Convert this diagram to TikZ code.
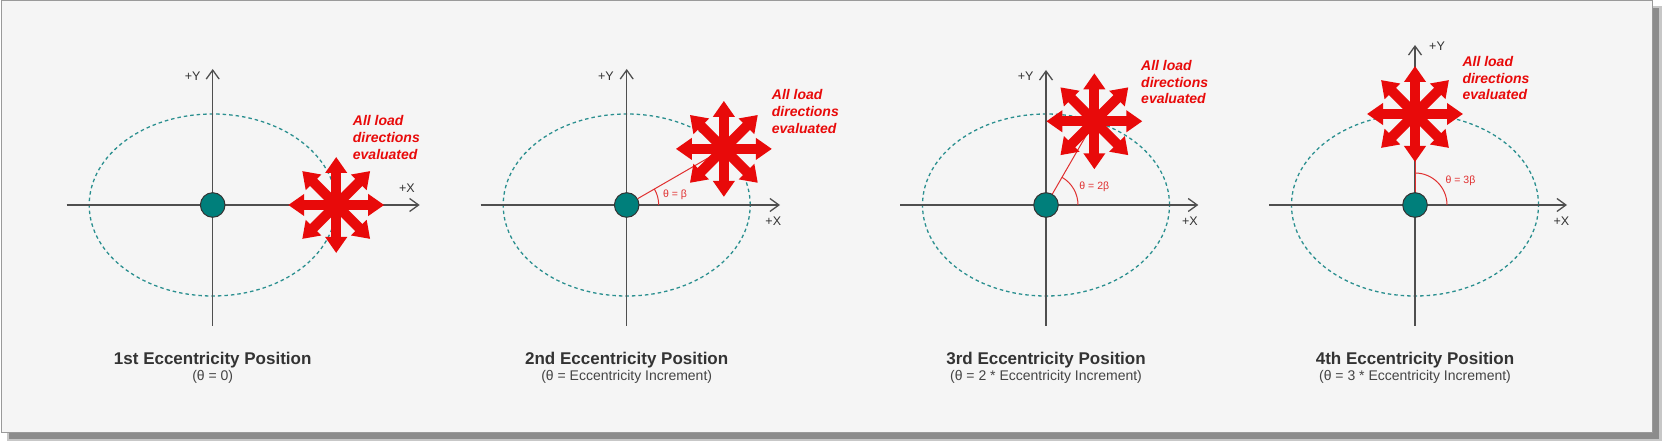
\documentclass[tikz,border=0pt]{standalone}
\usepackage{fontspec}
\setmainfont{Liberation Sans}
\usetikzlibrary{arrows.meta,calc}
\definecolor{bgC}{HTML}{F5F5F5}
\definecolor{frameC}{HTML}{9A9A9A}
\definecolor{axisC}{HTML}{4F4F4F}
\definecolor{hubC}{HTML}{007F7B}
\definecolor{dashC}{HTML}{2A8F8F}
\definecolor{starC}{HTML}{E80A0A}
\definecolor{txtC}{HTML}{333333}
\definecolor{subC}{HTML}{444444}
\definecolor{angC}{HTML}{E03030}
\begin{document}
\begin{tikzpicture}[x=1pt,y=1pt,
  axis/.style={draw=axisC, line width=1.4pt, -{Straight Barb[length=9pt,width=13pt,line width=1.3pt]}},
  ellip/.style={draw=dashC, line width=1.3pt, dash pattern=on 3.5pt off 3pt},
  hub/.style={circle, draw=txtC, line width=1pt, fill=hubC, minimum size=24.6pt, inner sep=0pt},
  axlabel/.style={text=txtC, font=\fontsize{12.5}{14}\selectfont, inner sep=0pt},
  loadarrow/.style={draw=starC, line width=10pt, {Triangle[width=21pt,length=16pt]}-{Triangle[width=21pt,length=16pt]}},
  loadtxt/.style={text=starC, font=\fontsize{14}{16.7}\selectfont\bfseries\itshape, align=left, inner sep=0pt, anchor=west},
  radial/.style={draw=angC, line width=1pt},
  angarc/.style={draw=angC, line width=1pt},
  anglabel/.style={text=angC, font=\fontsize{10.5}{12}\selectfont, inner sep=0pt},
  titletxt/.style={text=txtC, font=\fontsize{17}{20}\selectfont\bfseries, anchor=base, inner sep=0pt},
  subtxt/.style={text=subC, font=\fontsize{14}{16}\selectfont, anchor=base, inner sep=0pt}
]
\useasboundingbox (0,0) rectangle (1667,447);
% frame with shadow
\fill[black!22] (7,6) rectangle (1662,441);
\fill[black!45] (9,8) rectangle (1659,439);
\draw[draw=frameC, fill=bgC, line width=1pt] (1,446) rectangle (1652,15);

% ---------- panel 1 ----------
\coordinate (C1) at (212.7,242);
\draw[ellip] (C1) ellipse [x radius=123.5, y radius=91];
\coordinate (C1l) at ($(C1)+(-146,0)$);
\coordinate (C1r) at ($(C1)+(207,0)$);
\coordinate (C1b) at ($(C1)+(0,-121)$);
\coordinate (C1t) at ($(C1)+(0,136)$);
\draw[axis] (C1l) -- (C1r);
\draw[axis] (C1b) -- (C1t);
\node[axlabel] (X1) at ($(C1)+(194.3,17)$) {+X};
\node[axlabel] (Y1) at ($(C1)+(-20,128.3)$) {+Y};
\node[hub] (H1) at (C1) {};
\coordinate (S1) at ($(C1)+(0:123.5)$);
\foreach \a in {0,45,90,135}
  \draw[loadarrow] ($(S1)+(\a:48)$) -- ($(S1)+(\a+180:48)$);
\node[loadtxt] (L1) at (352.7,309.3) {All load\\directions\\evaluated};
\node[titletxt] (T1) at (212.7,82) {1st Eccentricity Position};
\node[subtxt] (U1) at (212.7,66.5) {(θ = 0)};

% ---------- panel 2 ----------
\coordinate (C2) at (626.7,242);
\draw[ellip] (C2) ellipse [x radius=123.5, y radius=91];
\coordinate (C2l) at ($(C2)+(-146,0)$);
\coordinate (C2r) at ($(C2)+(153.3,0)$);
\coordinate (C2b) at ($(C2)+(0,-121)$);
\coordinate (C2t) at ($(C2)+(0,136)$);
\draw[axis] (C2l) -- (C2r);
\draw[axis] (C2b) -- (C2t);
\node[axlabel] (X2) at ($(C2)+(146.6,-16.7)$) {+X};
\node[axlabel] (Y2) at ($(C2)+(-20.7,129)$) {+Y};
\coordinate (S2) at ($(C2)+(30:112.2)$);
\node[hub] (H2) at (C2) {};
\draw[radial] (H2) -- (S2);
\draw[angarc] ($(C2)+(32,0)$) arc[start angle=0, end angle=30, radius=32];
\node[anglabel] (A2) at ($(C2)+(48.3,10)$) {θ = β};
\foreach \a in {0,45,90,135}
  \draw[loadarrow] ($(S2)+(\a:48)$) -- ($(S2)+(\a+180:48)$);
\node[loadtxt] (L2) at (771.7,335.3) {All load\\directions\\evaluated};
\node[titletxt] (T2) at (626.7,82) {2nd Eccentricity Position};
\node[subtxt] (U2) at (626.7,66.5) {(θ = Eccentricity Increment)};

% ---------- panel 3 ----------
\coordinate (C3) at (1046,242);
\draw[ellip] (C3) ellipse [x radius=123.5, y radius=91];
\coordinate (C3l) at ($(C3)+(-146,0)$);
\coordinate (C3r) at ($(C3)+(152.3,0)$);
\coordinate (C3b) at ($(C3)+(0,-121)$);
\coordinate (C3t) at ($(C3)+(0,135)$);
\draw[axis] (C3l) -- (C3r);
\draw[axis] (C3b) -- (C3t);
\node[axlabel] (X3) at ($(C3)+(144,-16.7)$) {+X};
\node[axlabel] (Y3) at ($(C3)+(-20.3,128.3)$) {+Y};
\coordinate (S3) at ($(C3)+(60:96.7)$);
\node[hub] (H3) at (C3) {};
\draw[radial] (H3) -- (S3);
\draw[angarc] ($(C3)+(32,0)$) arc[start angle=0, end angle=60, radius=32];
\node[anglabel] (A3) at ($(C3)+(48.3,18.3)$) {θ = 2β};
\foreach \a in {0,45,90,135}
  \draw[loadarrow] ($(S3)+(\a:48)$) -- ($(S3)+(\a+180:48)$);
\node[loadtxt] (L3) at (1141,364.7) {All load\\directions\\evaluated};
\node[titletxt] (T3) at (1046,82) {3rd Eccentricity Position};
\node[subtxt] (U3) at (1046,66.5) {(θ = 2 * Eccentricity Increment)};

% ---------- panel 4 ----------
\coordinate (C4) at (1415,242);
\draw[ellip] (C4) ellipse [x radius=123.5, y radius=91];
\coordinate (C4l) at ($(C4)+(-146,0)$);
\coordinate (C4r) at ($(C4)+(152,0)$);
\coordinate (C4b) at ($(C4)+(0,-121)$);
\coordinate (C4t) at ($(C4)+(0,160)$);
\draw[axis] (C4l) -- (C4r);
\draw[axis] (C4b) -- (C4t);
\node[axlabel] (X4) at ($(C4)+(146.4,-16)$) {+X};
\node[axlabel] (Y4) at ($(C4)+(22,159)$) {+Y};
\coordinate (S4) at ($(C4)+(90:91)$);
\node[hub] (H4) at (C4) {};
\draw[radial] (H4) -- (S4);
\draw[angarc] ($(C4)+(32,0)$) arc[start angle=0, end angle=90, radius=32];
\node[anglabel] (A4) at ($(C4)+(45.5,24.3)$) {θ = 3β};
\foreach \a in {0,45,90,135}
  \draw[loadarrow] ($(S4)+(\a:48)$) -- ($(S4)+(\a+180:48)$);
\node[loadtxt] (L4) at (1462.3,368.7) {All load\\directions\\evaluated};
\node[titletxt] (T4) at (1415,82) {4th Eccentricity Position};
\node[subtxt] (U4) at (1415,66.5) {(θ = 3 * Eccentricity Increment)};
\end{tikzpicture}
\end{document}
